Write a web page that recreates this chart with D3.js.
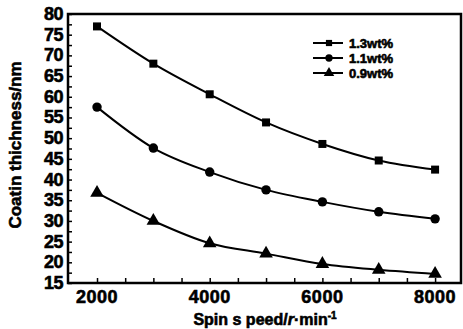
<!DOCTYPE html>
<html>
<head>
<meta charset="utf-8">
<script src="https://cdn.jsdelivr.net/npm/d3@7"></script>
<style>
body{margin:0;background:#fff;}
text{font-family:"Liberation Sans",Arial,sans-serif;font-weight:bold;fill:#000;stroke:#000;stroke-width:0.6px;}
</style>
</head>
<body>
<div id="chart"></div>
<script>
const w = 463;
const h = 329;

// data
const speeds = [2000, 3000, 4000, 5000, 6000, 7000, 8000];
const c13 = [77, 68, 60.6, 53.8, 48.6, 44.6, 42.4];
const c11 = [57.5, 47.6, 41.8, 37.5, 34.6, 32.2, 30.5];
const c09 = [36.8, 30.0, 24.6, 22.1, 19.6, 18.2, 17.2];
const seriesNames = ['1.3wt%', '1.1wt%', '0.9wt%'];
const xTicks = [2000, 4000, 6000, 8000];
const yTicks = [15, 20, 25, 30, 35, 40, 45, 50, 55, 60, 65, 70, 75, 80];

const pLeft = 68, pRight = 461, pTop = 14, pBottom = 283;

const svg = d3.select('#chart').append('svg')
  .attr('width', w).attr('height', h);

const x = d3.scaleLinear().domain([1485, 8460]).range([pLeft, pRight]);
const y = d3.scaleLinear().domain([15, 80]).range([pBottom, pTop]);

//frame
svg.append('rect')
  .attr('x', pLeft).attr('y', pTop)
  .attr('width', pRight - pLeft).attr('height', pBottom - pTop)
  .attr('fill', 'none').attr('stroke', '#000').attr('stroke-width', 2.5);

//x axis ticks (inward)
const xAxis = d3.axisBottom(x)
  .tickValues(d3.range(2000, 8500, 500))
  .tickSize(-5).tickFormat('');
svg.append('g').attr('transform', `translate(0,${pBottom})`).call(xAxis)
  .call(g => g.select('.domain').remove())
  .call(g => g.selectAll('line').attr('stroke-width', 1.5));

svg.append('g').selectAll('text').data(xTicks).enter().append('text')
  .attr('x', d => x(d)).attr('y', 303)
  .attr('text-anchor', 'middle')
  .attr('font-size', 18)
  .attr('letter-spacing', 0.5)
  .text(d => d);

//y axis ticks
const yAxis = d3.axisLeft(y)
  .tickValues(d3.range(15, 80.1, 2.5))
  .tickSize(-4).tickFormat('');
svg.append('g').attr('transform', `translate(${pLeft},0)`).call(yAxis)
  .call(g => g.select('.domain').remove())
  .call(g => g.selectAll('line').attr('stroke-width', 1.5));

svg.append('g').selectAll('text').data(yTicks).enter().append('text')
  .attr('x', 63).attr('y', d => y(d) + 6)
  .attr('text-anchor', 'end')
  .attr('font-size', 18)
  .attr('letter-spacing', -0.5)
  .text(d => d);

//axis titles
const xt = svg.append('text')
  .attr('x', 265).attr('y', 325)
  .attr('text-anchor', 'middle')
  .attr('font-size', 16);
xt.append('tspan').text('Spin s peed/');
xt.append('tspan').attr('font-style', 'italic').text('r');
xt.append('tspan').text('\u00b7min');
xt.append('tspan').attr('font-size', 10).attr('dy', -6).text('-1');

svg.append('text')
  .attr('transform', 'translate(21,145) rotate(-90)')
  .attr('text-anchor', 'middle')
  .attr('font-size', 17)
  .text('Coatin thichness/nm');

//series
const series = [c13, c11, c09];
const shapes = [d3.symbolSquare, d3.symbolCircle, d3.symbolTriangle];
const sizes = [64, 70, 80];

const line = d3.line()
  .x((d, i) => x(speeds[i]))
  .y(d => y(d))
  .curve(d3.curveMonotoneX);

series.forEach((s, k) => {
  svg.append('path').datum(s)
    .attr('d', line)
    .attr('fill', 'none').attr('stroke', '#000').attr('stroke-width', 2);
  svg.append('g').selectAll('path').data(s).enter().append('path')
    .attr('d', d3.symbol().type(shapes[k]).size(sizes[k]))
    .attr('transform', (d, i) => `translate(${x(speeds[i])},${y(d)})`)
    .attr('fill', '#000');
});

//legend
const ly = [43, 58, 73];
seriesNames.forEach((n, k) => {
  svg.append('line')
    .attr('x1', 313).attr('x2', 343)
    .attr('y1', ly[k]).attr('y2', ly[k])
    .attr('stroke', '#000').attr('stroke-width', 2);
  svg.append('path')
    .attr('d', d3.symbol().type(shapes[k]).size(sizes[k] * 0.6))
    .attr('transform', `translate(329,${ly[k]})`);
  svg.append('text')
    .attr('x', 349).attr('y', ly[k] + 5)
    .attr('font-size', 13)
    .text(n);
});
</script>
</body>
</html>
